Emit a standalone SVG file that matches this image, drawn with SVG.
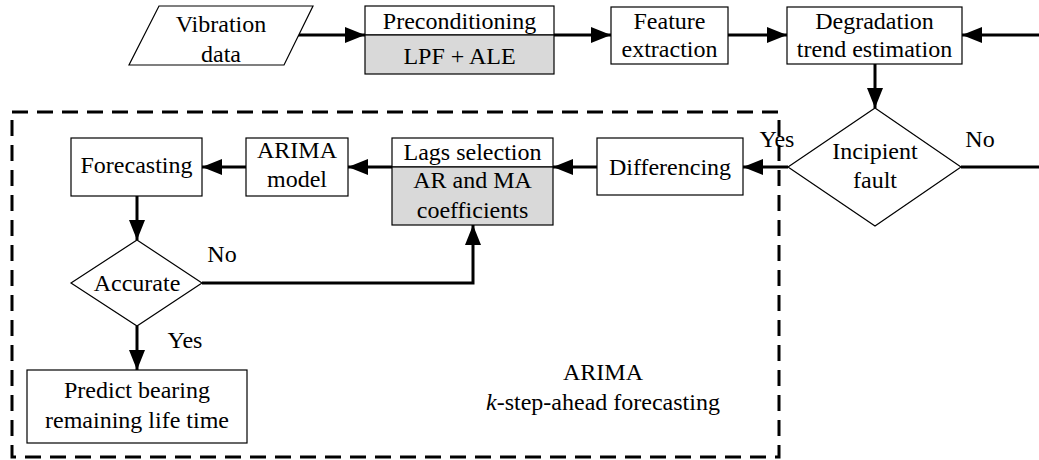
<svg xmlns="http://www.w3.org/2000/svg" width="1039" height="460" viewBox="0 0 1039 460" font-family="Liberation Serif, serif">
<defs>
<style>
.n{fill:#fff;stroke:#000;stroke-width:1.2}
.g{fill:#d9d9d9;stroke:#000;stroke-width:1.2}
.t{font-size:24px;fill:#000;text-anchor:middle}
.c{fill:none;stroke:#000;stroke-width:3}
.d{fill:none;stroke:#000;stroke-width:3;stroke-dasharray:16 9}
</style>
<marker id="ah" viewBox="0 0 20 16" refX="20" refY="8" markerWidth="20" markerHeight="16" markerUnits="userSpaceOnUse" orient="auto">
<path d="M0,0 L20,8 L0,16 Z" fill="#000"/>
</marker>
</defs>
<rect width="1039" height="460" fill="#fff"/>
<g id="boundary">
<rect class="d" x="12" y="112" width="767" height="345"/>
<text class="t" x="603" y="380">ARIMA</text>
<text class="t" x="603" y="410"><tspan font-style="italic">k</tspan>-step-ahead forecasting</text>
</g>
<g id="connectors">
<path class="c" d="M298,35 H365" marker-end="url(#ah)"/>
<path class="c" d="M554,35 H611" marker-end="url(#ah)"/>
<path class="c" d="M728,35 H787" marker-end="url(#ah)"/>
<path class="c" d="M1039,35 H962" marker-end="url(#ah)"/>
<path class="c" d="M875,64 V108" marker-end="url(#ah)"/>
<path class="c" d="M1039,167 H961"/>
<path class="c" d="M788,167 H743" marker-end="url(#ah)"/>
<path class="c" d="M597,167 H553" marker-end="url(#ah)"/>
<path class="c" d="M392,167 H348" marker-end="url(#ah)"/>
<path class="c" d="M246,167 H202" marker-end="url(#ah)"/>
<path class="c" d="M137,196 V240" marker-end="url(#ah)"/>
<path class="c" d="M202,283 H473 V225" marker-end="url(#ah)"/>
<path class="c" d="M137,326 V370" marker-end="url(#ah)"/>
<text class="t" x="777" y="147">Yes</text>
<text class="t" x="980" y="147">No</text>
<text class="t" x="222" y="262">No</text>
<text class="t" x="185" y="348">Yes</text>
</g>
<g id="vibration">
<polygon class="n" points="159,6 313,6 284,65 129,65"/>
<text class="t" x="221" y="32">Vibration</text>
<text class="t" x="221" y="62">data</text>
</g>
<g id="preconditioning">
<rect class="n" x="365" y="6" width="189" height="29"/>
<rect class="g" x="365" y="35" width="189" height="39"/>
<text class="t" x="459.500" y="29">Preconditioning</text>
<text class="t" x="459.500" y="64">LPF + ALE</text>
</g>
<g id="feature">
<rect class="n" x="611" y="7" width="117" height="57"/>
<text class="t" x="669.500" y="29">Feature</text>
<text class="t" x="669.500" y="57">extraction</text>
</g>
<g id="degradation">
<rect class="n" x="787" y="7" width="175" height="57"/>
<text class="t" x="874.500" y="29">Degradation</text>
<text class="t" x="874.500" y="57">trend estimation</text>
</g>
<g id="incipient">
<polygon class="n" points="875,108 961,167 875,226 788,167"/>
<text class="t" x="875" y="159">Incipient</text>
<text class="t" x="875" y="188">fault</text>
</g>
<g id="differencing">
<rect class="n" x="597" y="138" width="146" height="57"/>
<text class="t" x="670" y="175">Differencing</text>
</g>
<g id="lags">
<rect class="n" x="392" y="138" width="161" height="29"/>
<rect class="g" x="392" y="167" width="161" height="58"/>
<text class="t" x="472.500" y="160">Lags selection</text>
<text class="t" x="472.500" y="188">AR and MA</text>
<text class="t" x="472.500" y="218">coefficients</text>
</g>
<g id="arima-model">
<rect class="n" x="246" y="138" width="102" height="58"/>
<text class="t" x="297" y="158">ARIMA</text>
<text class="t" x="297" y="187">model</text>
</g>
<g id="forecasting">
<rect class="n" x="71" y="138" width="131" height="58"/>
<text class="t" x="136.500" y="173">Forecasting</text>
</g>
<g id="accurate">
<polygon class="n" points="137,240 202,283 137,326 71,283"/>
<text class="t" x="137" y="291">Accurate</text>
</g>
<g id="predict">
<rect class="n" x="27" y="370" width="220" height="73"/>
<text class="t" x="137" y="398">Predict bearing</text>
<text class="t" x="137" y="428">remaining life time</text>
</g>
</svg>
